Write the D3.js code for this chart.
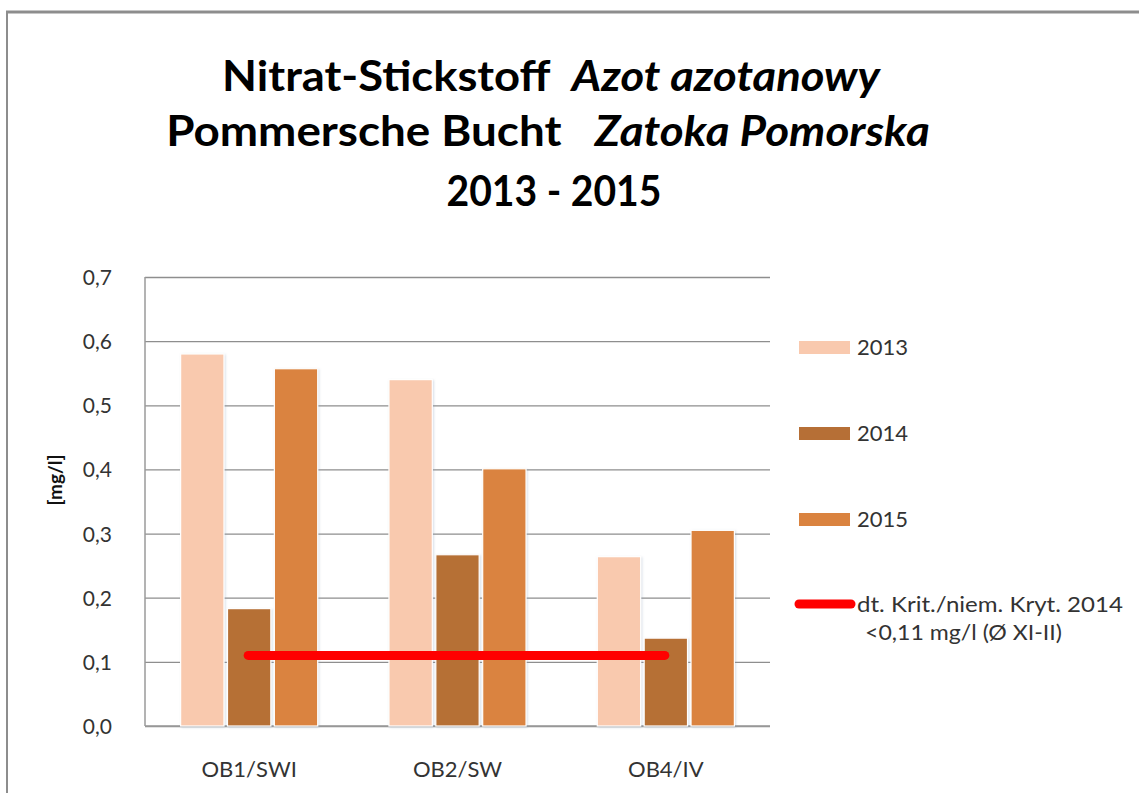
<!DOCTYPE html>
<html><head><meta charset="utf-8">
<script src="https://cdn.jsdelivr.net/npm/d3@7"></script>
<style>
html,body{margin:0;padding:0;background:#fff;}
svg{display:block;font-family:Lato,"Open Sans",sans-serif;}
</style></head>
<body>
<svg id="chart" width="1139" height="793"></svg>
<script>
// ---- data ----
const categories = ["OB1/SWI", "OB2/SW", "OB4/IV"];
const seriesNames = ["2013", "2014", "2015"];
const values2013 = [0.580, 0.540, 0.264];
const values2014 = [0.183, 0.267, 0.137];
const values2015 = [0.557, 0.401, 0.305];
const criterionValue = 0.11;
const criterionLabel = ["dt. Krit./niem. Kryt. 2014", "<0,11 mg/l (Ø XI-II)"];
const yTicks = [0, 0.1, 0.2, 0.3, 0.4, 0.5, 0.6, 0.7];
const yAxisTitle = "[mg/l]";
const colors = ["#f9c9ae", "#b66f36", "#da833f"];

const seriesValues = [values2013, values2014, values2015];

const svg = d3.select("#chart");

// frame
svg.append("line").attr("x1", 6).attr("x2", 1139).attr("y1", 12).attr("y2", 12)
  .attr("stroke", "#8d8d8d").attr("stroke-width", 3);
svg.append("line").attr("x1", 7).attr("x2", 7).attr("y1", 11).attr("y2", 793)
  .attr("stroke", "#8d8d8d").attr("stroke-width", 2);

const defs = svg.append("defs");
const f = defs.append("filter").attr("id", "sh").attr("x", "-20%").attr("y", "-5%").attr("width", "140%").attr("height", "110%");
f.append("feDropShadow").attr("dx", 1).attr("dy", 1).attr("stdDeviation", 1.2)
  .attr("flood-color", "#8aa0b8").attr("flood-opacity", 0.35);

function fitX(sel, cx, y, target) {
  const w = sel.node().getComputedTextLength();
  sel.attr("text-anchor", "middle").attr("x", 0).attr("y", 0)
     .attr("transform", `translate(${cx},${y}) scale(${target / w},1)`);
}
function fitLeft(el, tw) {
  const w = el.node().getComputedTextLength();
  const x = +el.attr("x"), yy = +el.attr("y");
  el.attr("x", 0).attr("y", 0).attr("transform", `translate(${x},${yy}) scale(${tw / w},1)`);
}

// title
const t1 = svg.append("text").attr("font-size", 42).attr("font-weight", "bold").attr("fill", "#000");
t1.append("tspan").text("Nitrat-Stickstoff\u00a0\u00a0");
t1.append("tspan").attr("font-style", "italic").text("Azot azotanowy");
fitX(t1, 551, 91, 658);
const t2 = svg.append("text").attr("font-size", 42).attr("font-weight", "bold").attr("fill", "#000");
t2.append("tspan").text("Pommersche Bucht\u00a0\u00a0\u00a0");
t2.append("tspan").attr("font-style", "italic").text("Zatoka Pomorska");
fitX(t2, 548, 146, 764);
const t3 = svg.append("text").attr("font-size", 42).attr("font-weight", "bold").attr("fill", "#000").text("2013 - 2015");
fitX(t3, 554, 206, 215);

// scales
const plot = {left: 145, right: 770, top: 277, bottom: 726};
const y = d3.scaleLinear().domain([0, 0.7]).range([plot.bottom, plot.top]);
const x0 = d3.scaleBand().domain(categories).range([plot.left, plot.right])
  .paddingInner(0.342).paddingOuter(0.171);
const x1 = d3.scaleBand().domain(seriesNames).range([0, x0.bandwidth()])
  .paddingInner(0.075).paddingOuter(0);

// gridlines
const yAxis = d3.axisLeft(y).tickValues(yTicks).tickSize(-(plot.right - plot.left))
  .tickFormat(d => d3.format(".1f")(d).replace(".", ","));
const ga = svg.append("g").attr("transform", `translate(${plot.left},0)`).call(yAxis);
ga.select(".domain").remove();
ga.selectAll(".tick line").attr("stroke", "#8e8e8e").attr("stroke-width", 1.3);
ga.selectAll(".tick text").attr("x", -33).attr("dy", "0.36em")
  .attr("font-size", 21).attr("fill", "#333").attr("font-family", "Lato, sans-serif");

// left axis & bottom axis lines
svg.append("line").attr("x1", plot.left).attr("x2", plot.left).attr("y1", plot.top).attr("y2", plot.bottom)
  .attr("stroke", "#9a9a9a").attr("stroke-width", 1.5);
svg.append("line").attr("x1", plot.left).attr("x2", plot.right).attr("y1", plot.bottom).attr("y2", plot.bottom)
  .attr("stroke", "#9a9a9a").attr("stroke-width", 1.5);

// bars
const groups = svg.append("g").selectAll("g").data(categories).join("g")
  .attr("transform", d => `translate(${x0(d)},0)`);
groups.selectAll("rect")
  .data((c, ci) => seriesNames.map((s, si) => ({s, si, v: seriesValues[si][ci]})))
  .join("rect")
  .attr("x", d => x1(d.s)).attr("width", x1.bandwidth())
  .attr("y", d => y(d.v)).attr("height", d => y(0) - y(d.v))
  .attr("fill", d => colors[d.si]).attr("stroke", "#fff").attr("stroke-width", 1.2)
  .attr("filter", "url(#sh)");

// criterion line
const crit = [
  {c: categories[0], v: criterionValue},
  {c: categories[categories.length - 1], v: criterionValue}
];
svg.append("path")
  .attr("d", d3.line().x(d => x0(d.c) + x0.bandwidth() / 2 - 1).y(d => y(d.v))(crit))
  .attr("stroke", "#ff0000").attr("stroke-width", 9).attr("stroke-linecap", "round").attr("fill", "none");

// x labels
svg.append("g").selectAll("text").data(categories).join("text")
  .attr("x", d => x0(d) + x0.bandwidth() / 2).attr("y", 777)
  .attr("text-anchor", "middle").attr("font-size", 22).attr("fill", "#333").text(d => d);

// y title
svg.append("text").attr("transform", "translate(62,480) rotate(-90)")
  .attr("text-anchor", "middle").attr("font-size", 19).attr("font-weight", "bold").attr("fill", "#111")
  .text(yAxisTitle);

// legend
const legY = [347, 433, 519];
const leg = svg.append("g");
seriesNames.forEach((s, i) => {
  leg.append("rect").attr("x", 799).attr("y", legY[i] - 6).attr("width", 51).attr("height", 13)
    .attr("fill", colors[i]);
  leg.append("text").attr("x", 857).attr("y", legY[i] + 8).attr("font-size", 22).attr("fill", "#333").text(s);
});
leg.append("line").attr("x1", 799).attr("x2", 851).attr("y1", 604).attr("y2", 604)
  .attr("stroke", "#ff0000").attr("stroke-width", 9).attr("stroke-linecap", "round");
const l1 = leg.append("text").attr("x", 857).attr("y", 612).attr("font-size", 21).attr("fill", "#333").text(criterionLabel[0]);
const l2 = leg.append("text").attr("x", 865).attr("y", 640).attr("font-size", 21).attr("fill", "#333").text(criterionLabel[1]);
fitLeft(l1, 266);
fitLeft(l2, 197);
</script>
</body></html>
